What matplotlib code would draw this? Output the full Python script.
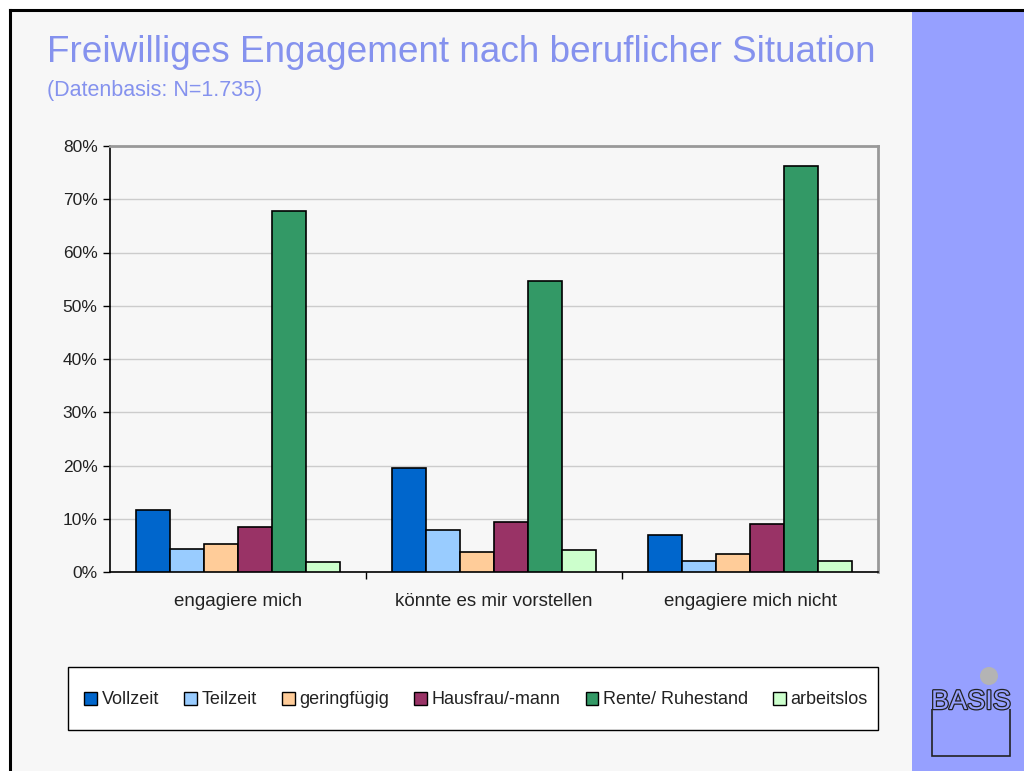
import numpy as np
import matplotlib
matplotlib.use("Agg")
import matplotlib.pyplot as plt
from matplotlib.patches import Rectangle, Circle, Patch
import matplotlib.patheffects as pe

plt.rcParams['font.family'] = ['Liberation Sans', 'DejaVu Sans']

# data
categories = ['engagiere mich', 'könnte es mir vorstellen', 'engagiere mich nicht']
series = ['Vollzeit', 'Teilzeit', 'geringfügig', 'Hausfrau/-mann', 'Rente/ Ruhestand', 'arbeitslos']
vollzeit = [11.6, 19.6, 6.9]
teilzeit = [4.4, 7.9, 2.1]
geringfuegig = [5.2, 3.8, 3.3]
hausfrau = [8.5, 9.4, 9.0]
rente = [67.7, 54.7, 76.3]
arbeitslos = [1.8, 4.1, 2.1]
colors = ['#0066CC', '#99CCFF', '#FFCC99', '#993366', '#339966', '#CCFFCC']

values = [vollzeit, teilzeit, geringfuegig, hausfrau, rente, arbeitslos]

W, H = 1024, 771
fig = plt.figure(figsize=(W / 100, H / 100), dpi=100)
fig.patch.set_facecolor('white')

def px(x0, y0, w, h):
    # pixel box (top-left origin) -> figure fraction
    return [x0 / W, 1 - (y0 + h) / H, w / W, h / H]

# page background, blue side panel, black outline
bg = fig.add_axes([0, 0, 1, 1])
bg.set_xlim(0, W)
bg.set_ylim(H, 0)
bg.axis('off')
bg.add_patch(Rectangle((10, 10), W - 10, H - 10, facecolor='#F7F7F7', edgecolor='none'))
bg.add_patch(Rectangle((912, 11), W - 912, H - 11, facecolor='#96A0FF', edgecolor='none'))
bg.plot([10, W], [10, 10], color='black', lw=2.2)
bg.plot([10, 10], [10, H], color='black', lw=2.2)

bg.text(47, 62, 'Freiwilliges Engagement nach beruflicher Situation', fontsize=26.6,
        color='#8592EE', va='baseline', ha='left')
bg.text(47, 96, '(Datenbasis: N=1.735)', fontsize=15.5, color='#8592EE',
        va='baseline', ha='left')

# logo
bg.add_patch(Circle((989, 676), 9, facecolor='#B4B4B4', edgecolor='none'))
bg.add_patch(Rectangle((932, 699), 78, 57, facecolor='none', edgecolor='#222222', lw=1.2))
bg.add_patch(Rectangle((930, 688), 82, 21, facecolor='#96A0FF', edgecolor='none'))
t = bg.text(971, 709, 'BASIS', fontsize=19.5, color='#96A0FF', ha='center', va='baseline')
t.set_path_effects([pe.Stroke(linewidth=1.8, foreground='#222222'), pe.Normal()])

# chart
ax = fig.add_axes(px(110, 146, 768, 426))
ax.set_facecolor('none')
x = np.arange(len(categories))
bw = 1 / 7.5
for i, (name, vals) in enumerate(zip(series, values)):
    ax.bar(x + (i - 2.5) * bw, vals, width=bw, color=colors[i], edgecolor='black',
           linewidth=1.2, label=name, zorder=3)

ax.set_xlim(-0.5, 2.5)
ax.set_ylim(0, 80)
ax.set_yticks(range(0, 81, 10))
ax.set_yticklabels([f'{v}%' for v in range(0, 81, 10)], fontsize=12.5, color='#222222')
ax.yaxis.grid(True, color='#CCCCCC', lw=1, zorder=0)
ax.set_xticks([0.5, 1.5])
ax.set_xticklabels([])
ax.set_xticks(x, minor=True)
ax.set_xticklabels(categories, minor=True, fontsize=13.5, color='#222222')
ax.tick_params(axis='x', which='minor', length=0, pad=15)
ax.tick_params(axis='x', which='major', length=5, width=1, color='black')
ax.tick_params(axis='y', length=5, width=1, color='black', pad=4)
for s in ['left', 'bottom']:
    ax.spines[s].set_color('black')
    ax.spines[s].set_linewidth(1.2)
for s in ['top', 'right']:
    ax.spines[s].set_color('#999999')
    ax.spines[s].set_linewidth(2)

# legend box + entries
bg.add_patch(Rectangle((68, 667), 810, 63, facecolor='white', edgecolor='black', lw=1))
handles = [Patch(facecolor=c, edgecolor='black', lw=1) for c in colors]
leg = fig.legend(handles, series, loc='center', ncol=6,
                 bbox_to_anchor=(476 / W, 1 - 700 / H), fontsize=13,
                 handlelength=0.7, handleheight=0.7, handletextpad=0.25,
                 columnspacing=1.4, frameon=False)
for txt in leg.get_texts():
    txt.set_color('#222222')

fig.savefig('out.png', dpi=100, facecolor=fig.get_facecolor())
